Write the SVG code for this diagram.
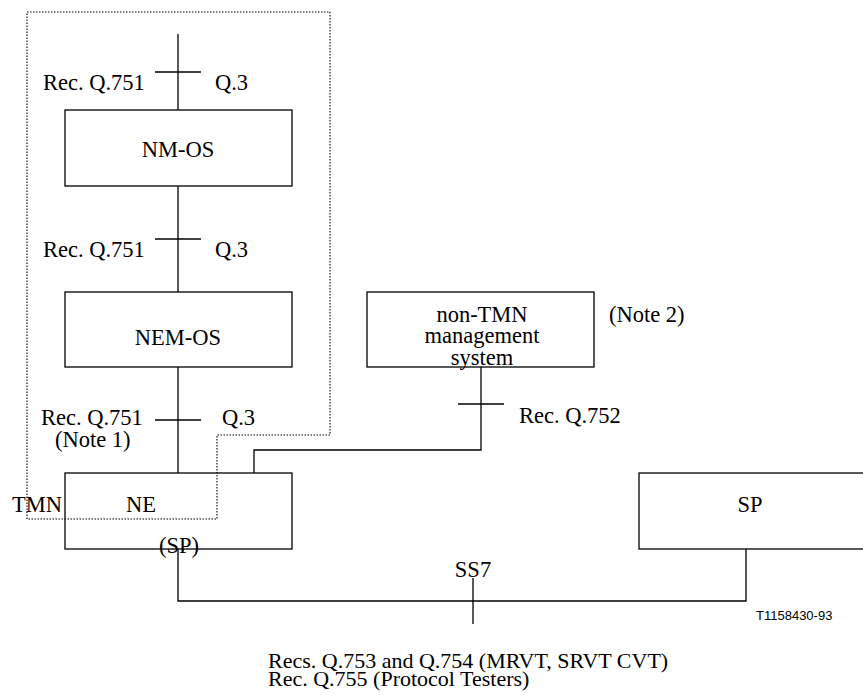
<svg xmlns="http://www.w3.org/2000/svg" width="863" height="695" viewBox="0 0 863 695">
<style>
.box{fill:#fff;stroke:#000;stroke-width:1.3}
.ln{fill:none;stroke:#000;stroke-width:1.3}
.dot{fill:none;stroke:#000;stroke-width:1.1;stroke-dasharray:1.5 1.5}
text{font-family:"Liberation Serif","Times New Roman",serif;font-size:22.5px;fill:#000}
.c{text-anchor:middle}
.b{font-size:22px}
.sm{font-family:"Liberation Sans",Arial,sans-serif;font-size:13px}
</style>
<rect width="863" height="695" fill="#fff"/>
<g id="connectors">
<line class="ln" x1="178" y1="34" x2="178" y2="110"/>
<line class="ln" x1="155" y1="72" x2="201" y2="72"/>
<line class="ln" x1="178" y1="186" x2="178" y2="292"/>
<line class="ln" x1="155" y1="239" x2="201" y2="239"/>
<line class="ln" x1="178" y1="367" x2="178" y2="473"/>
<line class="ln" x1="155" y1="420" x2="201" y2="420"/>
<polyline class="ln" points="481,367 481,450 254,450 254,473"/>
<line class="ln" x1="458" y1="404" x2="504" y2="404"/>
<polyline class="ln" points="178,549 178,601 746,601 746,549"/>
<line class="ln" x1="473" y1="578" x2="473" y2="624"/>
</g>
<g id="tmn-boundary">
<polyline class="dot" points="27,12 330,12 330,435 217,435 217,519 27,519 27,12"/>
<text x="12" y="512">TMN</text>
</g>
<g id="nm-os">
<rect class="box" x="65" y="110" width="227" height="76"/>
<text class="c" x="178" y="157">NM-OS</text>
</g>
<g id="nem-os">
<rect class="box" x="65" y="292" width="227" height="75"/>
<text class="c" x="178" y="345">NEM-OS</text>
</g>
<g id="ne">
<rect class="box" x="65" y="473" width="227" height="76" style="fill:none"/>
<text class="c" x="141" y="512">NE</text>
<text class="c" x="179" y="553">(SP)</text>
</g>
<g id="non-tmn">
<rect class="box" x="367" y="292" width="227" height="75"/>
<text class="c" x="482" y="322">non-TMN</text>
<text class="c" x="482" y="343">management</text>
<text class="c" x="482" y="365">system</text>
</g>
<g id="sp">
<rect class="box" x="639" y="473" width="240" height="76"/>
<text class="c" x="750" y="512">SP</text>
</g>
<g id="labels">
<text x="43" y="90">Rec. Q.751</text>
<text x="215" y="90">Q.3</text>
<text x="43" y="257">Rec. Q.751</text>
<text x="215" y="257">Q.3</text>
<text x="41" y="425">Rec. Q.751</text>
<text x="55" y="447">(Note 1)</text>
<text x="222" y="425">Q.3</text>
<text x="609" y="322">(Note 2)</text>
<text x="519" y="423">Rec. Q.752</text>
<text class="c" x="473" y="577">SS7</text>
<text class="b" x="268" y="668">Recs. Q.753 and Q.754 (MRVT, SRVT CVT)</text>
<text class="b" x="268" y="686">Rec. Q.755 (Protocol Testers)</text>
<text class="sm" x="756" y="620">T1158430-93</text>
</g>
</svg>
